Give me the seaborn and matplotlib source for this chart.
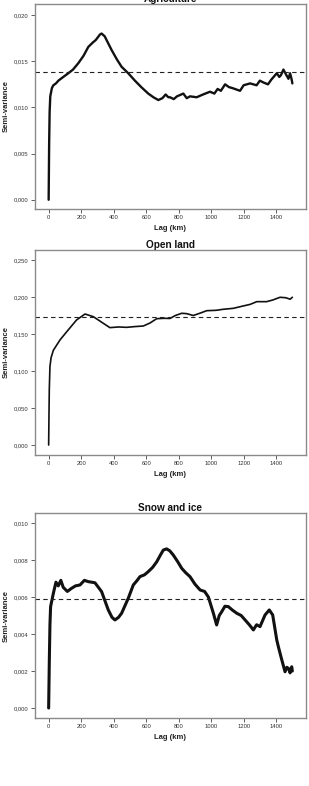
import matplotlib
matplotlib.use("Agg")
import matplotlib.pyplot as plt
import matplotlib.ticker as mticker
import seaborn as sns
import pandas as pd

# ---------------- data ----------------
agri_lag = [0, 3, 6, 10, 20, 29, 45, 60, 90, 121, 150, 183, 215, 244, 270, 290, 316, 326,
            345, 365, 388, 420, 449, 490, 531, 570, 613, 645, 675, 700, 720, 737, 747,
            770, 790, 829, 850, 870, 911, 950, 993, 1020, 1040, 1060, 1086, 1110, 1130,
            1178, 1200, 1240, 1280, 1300, 1322, 1350, 1370, 1404, 1420, 1430, 1445,
            1460, 1476, 1486, 1496, 1500]
agri_val = [0.0, 0.0060, 0.0095, 0.0112, 0.0121, 0.0124, 0.0126, 0.0129, 0.0133, 0.0137,
            0.0141, 0.0148, 0.0156, 0.01655, 0.0170, 0.0173, 0.0179, 0.0180, 0.0177,
            0.0170, 0.0162, 0.0152, 0.0144, 0.0137, 0.0129, 0.0122, 0.0115, 0.0111,
            0.0108, 0.0110, 0.0114, 0.0111, 0.0111, 0.0109, 0.0112, 0.0115, 0.0110,
            0.0112, 0.0111, 0.0114, 0.0117, 0.0115, 0.0120, 0.0118, 0.0125, 0.0122,
            0.0121, 0.0118, 0.0124, 0.0126, 0.0124, 0.0129, 0.0127, 0.0125, 0.0130,
            0.0137, 0.0133, 0.0135, 0.0141, 0.0136, 0.0131, 0.0137, 0.0130, 0.0126]
agri_sill = 0.0138

open_lag = [0, 2, 4, 8, 15, 29, 70, 111, 172, 224, 275, 336, 377, 430, 480, 530, 583,
            625, 665, 710, 747, 780, 819, 850, 890, 930, 973, 1030, 1075, 1137, 1200,
            1240, 1281, 1342, 1380, 1424, 1460, 1486, 1500]
open_val = [0.0, 0.040, 0.075, 0.106, 0.118, 0.128, 0.142, 0.153, 0.169, 0.177, 0.1734,
            0.1645, 0.1586, 0.1595, 0.159, 0.1600, 0.1608, 0.1650, 0.1707, 0.1712, 0.171,
            0.175, 0.178, 0.1775, 0.175, 0.178, 0.1815, 0.1820, 0.1834, 0.1847, 0.1880,
            0.1900, 0.1937, 0.1937, 0.1960, 0.1996, 0.1990, 0.197, 0.1996]
open_sill = 0.173

snow_lag = [0, 4, 8, 12, 29, 45, 59, 75, 90, 115, 141, 165, 193, 220, 244, 285, 326,
            367, 390, 408, 430, 449, 490, 521, 545, 562, 590, 613, 640, 665, 690, 706,
            726, 745, 767, 795, 819, 845, 870, 900, 932, 960, 983, 1014, 1034, 1050,
            1065, 1085, 1106, 1130, 1158, 1185, 1209, 1235, 1260, 1280, 1301, 1332, 1358,
            1379, 1404, 1414, 1435, 1455, 1466, 1476, 1486, 1496, 1500]
snow_val = [0.0, 0.0025, 0.0045, 0.00548, 0.0062, 0.0068, 0.0066, 0.0069, 0.00652,
            0.0063, 0.00647, 0.0066, 0.00665, 0.0069, 0.00683, 0.00677, 0.00629, 0.0053,
            0.0049, 0.00476, 0.0049, 0.00512, 0.00593, 0.00665, 0.0069, 0.0071, 0.0072,
            0.00737, 0.0076, 0.0079, 0.0083, 0.00854, 0.0086, 0.0085, 0.00827, 0.0079,
            0.00755, 0.0073, 0.0071, 0.0067, 0.00638, 0.0063, 0.0060, 0.00512, 0.00449,
            0.0050, 0.0052, 0.0055, 0.00548, 0.0053, 0.00512, 0.0050, 0.00476, 0.0045,
            0.00422, 0.0045, 0.0044, 0.00503, 0.0053, 0.00503, 0.00368, 0.00331, 0.0026,
            0.00196, 0.0022, 0.00214, 0.0019, 0.00223, 0.0020]
snow_sill = 0.0059

titles = ["Agriculture", "Open land", "Snow and ice"]
x_ticks = [0, 200, 400, 600, 800, 1000, 1200, 1400]
y_ticks = [[0.0, 0.005, 0.010, 0.015, 0.020],
           [0.0, 0.05, 0.10, 0.15, 0.20, 0.25],
           [0.0, 0.002, 0.004, 0.006, 0.008, 0.010]]
y_lims = [(-0.001, 0.0212), (-0.0135, 0.2635), (-0.00054, 0.01054)]

# ---------------- styling ----------------
sns.set_style("white")
plt.rcParams["font.family"] = ["Liberation Sans", "DejaVu Sans"]

W, H = 309, 786
fig = plt.figure(figsize=(W / 100, H / 100), dpi=100)

# axes boxes in pixels: (left, top, right, bottom)
boxes = [(35, 4, 306, 209), (35, 250, 306, 455), (35, 513, 306, 718)]
series = [(agri_lag, agri_val, agri_sill, 1.7),
          (open_lag, open_val, open_sill, 1.2),
          (snow_lag, snow_val, snow_sill, 2.2)]

def fmt(v, pos):
    return f"{v:.3f}".replace(".", ",")

for i, ((l, t, r, b), (lag, val, sill, lw)) in enumerate(zip(boxes, series)):
    ax = fig.add_axes([l / W, 1 - b / H, (r - l) / W, (b - t) / H])
    df = pd.DataFrame({"Lag (km)": lag, "Semi-variance": val})
    sns.lineplot(data=df, x="Lag (km)", y="Semi-variance", ax=ax, color="#111111",
                 linewidth=lw, estimator=None, sort=False)
    ax.axhline(sill, color="#222222", linestyle=(0, (4, 3)), linewidth=0.8)
    ax.set_xlim(-84, 1584)
    ax.set_ylim(*y_lims[i])
    ax.set_xticks(x_ticks)
    ax.set_yticks(y_ticks[i])
    ax.yaxis.set_major_formatter(mticker.FuncFormatter(fmt))
    ax.tick_params(axis="both", which="major", length=3, width=0.6, color="#444444",
                   direction="out", labelsize=4.2, labelcolor="#333333", pad=1.5,
                   left=True, bottom=True)
    for s in ax.spines.values():
        s.set_color("#8a8a8a")
        s.set_linewidth(1.0)
    ax.set_xlabel("Lag (km)", fontsize=5.5, fontweight="bold", color="#222222")
    ax.set_ylabel("Semi-variance", fontsize=5.5, fontweight="bold", color="#222222")
    ax.xaxis.set_label_coords(0.5, -0.078)
    ax.yaxis.set_label_coords(-0.092, 0.5)
    ax.set_title(titles[i], fontsize=7.2, fontweight="bold", pad=1.5, color="#111111")

fig.savefig("out.png", dpi=100, facecolor="white")
